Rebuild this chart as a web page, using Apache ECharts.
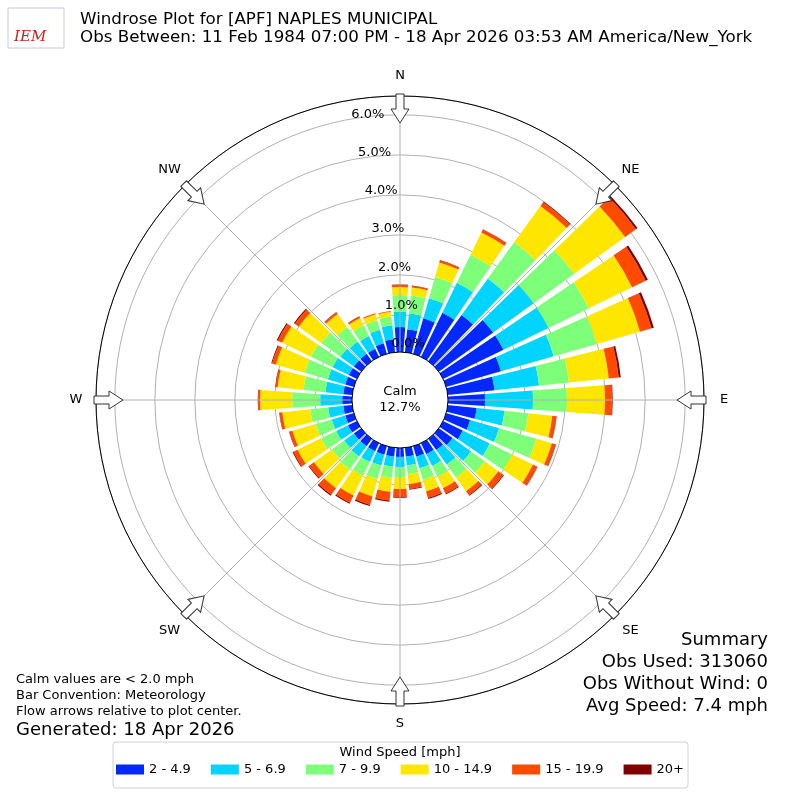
<!DOCTYPE html>
<html>
<head>
<meta charset="utf-8">
<script src="https://cdn.jsdelivr.net/npm/echarts@6/dist/echarts.min.js"></script>
<style>html,body{margin:0;padding:0;background:#fff}#chart{width:800px;height:800px}</style>
</head>
<body>
<div id="chart"></div>
<script>
// direction bins, every 10 degrees clockwise from N
const directions = ['0','10','20','30','40','50','60','70','80','90','100','110','120','130','140','150','160','170',
  '180','190','200','210','220','230','240','250','260','270','280','290','300','310','320','330','340','350'];
const speedBins = ['2 - 4.9', '5 - 6.9', '7 - 9.9', '10 - 14.9', '15 - 19.9', '20+'];
const binColors = ['#0028ff', '#00d4ff', '#7dff7a', '#ffe600', '#ff4a00', '#800000'];
const radiusTicks = ['0.0%', '1.0%', '2.0%', '3.0%', '4.0%', '5.0%', '6.0%'];

// percent of obs per direction for each speed bin
const spd2 = [.7,.65,1.0,1.3,1.5,1.75,1.75,1.5,1.25,1.0,.8,.7,.62,.5,.42,.38,.35,.3,.3,.3,.3,.3,.3,.3,.32,.3,.3,.32,.3,.3,.3,.3,.3,.3,.35,.4];
const spd5 = [.38,.4,.52,.83,1.12,1.25,1.25,1.37,1.12,1.2,.7,.75,.75,.57,.45,.33,.3,.22,.25,.25,.28,.3,.32,.3,.33,.35,.38,.55,.45,.45,.45,.42,.38,.35,.35,.35];
const spd7 = [.42,.45,.55,.78,1.12,1.25,1.12,1.12,.75,.85,.6,.97,.62,.42,.4,.3,.3,.22,.25,.28,.35,.38,.4,.38,.42,.42,.45,.7,.55,.6,.6,.58,.45,.3,.25,.22];
const spd10 = [.2,.2,.38,.62,1.12,1.57,1.2,1.12,1.0,.95,.6,.4,.58,.42,.42,.32,.3,.25,.3,.35,.45,.55,.58,.55,.65,.6,.7,.8,.65,.75,.8,.7,.4,.2,.15,.12];
const spd15 = [.05,.04,.05,.08,.12,.33,.38,.3,.25,.17,.1,.1,.12,.15,.12,.15,.17,.12,.2,.22,.22,.2,.2,.15,.12,.08,.07,.05,.05,.1,.12,.12,.05,.04,.03,.02];
const spd20 = [.01,.01,.01,.01,.02,.05,.06,.06,.05,.02,.01,.01,.01,.02,.02,.02,.03,.02,.02,.03,.03,.03,.03,.02,.02,.01,.01,.01,.01,.02,.03,.03,.01,.01,0,0];
const binValues = [spd2, spd5, spd7, spd10, spd15, spd20];

const compass = ['N', 'NE', 'E', 'SE', 'S', 'SW', 'W', 'NW'];
const CX = 400, CY = 400, R0 = 45, R1 = 304;
const FONT = '"DejaVu Sans"';

let graphics = [];
// radial guide lines and compass arrows / labels
compass.forEach((name, i) => {
    let a = i * 45 * Math.PI / 180;
    let sx = Math.sin(a), sy = -Math.cos(a);
    graphics.push({
        type: 'line', z: 50, silent: true,
        shape: {x1: CX + sx * 48, y1: CY + sy * 48, x2: CX + sx * R1, y2: CY + sy * R1},
        style: {stroke: '#b0b0b0', lineWidth: 1}
    });
    // arrow pointing to center, drawn along -y then rotated
    graphics.push({
        type: 'polygon', z: 60, silent: true,
        x: CX + sx * 291, y: CY + sy * 291,
        rotation: -i * 45 * Math.PI / 180,
        shape: {points: [[-4, -15], [4, -15], [4, 0], [9, 0], [0, 14], [-9, 0], [-4, 0]]},
        style: {fill: '#fff', stroke: '#333', lineWidth: 1}
    });
    let lr = i % 2 === 0 ? 324 : 326;
    graphics.push({
        type: 'text', z: 60,
        x: CX + sx * lr, y: CY + sy * lr,
        style: {text: name, font: '13px ' + FONT, fill: '#000', align: 'center', verticalAlign: 'middle'}
    });
});
// radius tick labels, placed like the matplotlib original
radiusTicks.forEach((t, i) => {
    graphics.push({
        type: 'text', z: 60, x: 408 - 6.7 * i, y: 344 - 38.3 * i,
        style: {text: t, font: '13px ' + FONT, fill: '#000', align: 'center', verticalAlign: 'middle'}
    });
});
graphics.push(
    {type: 'circle', z: 55, silent: true, shape: {cx: CX, cy: CY, r: 48}, style: {fill: '#fff', stroke: '#000', lineWidth: 1}},
    {type: 'text', z: 60, x: CX, y: CY - 8, style: {text: 'Calm', font: '13px ' + FONT, fill: '#000', align: 'center', verticalAlign: 'middle'}},
    {type: 'text', z: 60, x: CX, y: CY + 8, style: {text: '12.7%', font: '13px ' + FONT, fill: '#000', align: 'center', verticalAlign: 'middle'}},
    {type: 'text', x: 80, y: 11, style: {text: 'Windrose Plot for [APF] NAPLES MUNICIPAL', font: '16.7px ' + FONT, fill: '#000'}},
    {type: 'text', x: 80, y: 29, style: {text: 'Obs Between: 11 Feb 1984 07:00 PM - 18 Apr 2026 03:53 AM America/New_York', font: '16.7px ' + FONT, fill: '#000'}},
    {type: 'text', x: 14, y: 30, style: {text: 'IEM', font: 'italic 15px "DejaVu Serif"', fill: '#cc2222'}},
    {type: 'rect', shape: {x: 8, y: 8, width: 56, height: 40}, style: {fill: 'none', stroke: '#c8c8e0', lineWidth: 1}},
    {type: 'text', x: 768, y: 640, style: {text: 'Summary', font: '18px ' + FONT, fill: '#000', align: 'right', verticalAlign: 'middle'}},
    {type: 'text', x: 768, y: 662, style: {text: 'Obs Used: 313060', font: '18px ' + FONT, fill: '#000', align: 'right', verticalAlign: 'middle'}},
    {type: 'text', x: 768, y: 684, style: {text: 'Obs Without Wind: 0', font: '18px ' + FONT, fill: '#000', align: 'right', verticalAlign: 'middle'}},
    {type: 'text', x: 768, y: 706, style: {text: 'Avg Speed: 7.4 mph', font: '18px ' + FONT, fill: '#000', align: 'right', verticalAlign: 'middle'}},
    {type: 'text', x: 16, y: 680, style: {text: 'Calm values are < 2.0 mph', font: '13px ' + FONT, fill: '#000', verticalAlign: 'middle'}},
    {type: 'text', x: 16, y: 696, style: {text: 'Bar Convention: Meteorology', font: '13px ' + FONT, fill: '#000', verticalAlign: 'middle'}},
    {type: 'text', x: 16, y: 712, style: {text: 'Flow arrows relative to plot center.', font: '13px ' + FONT, fill: '#000', verticalAlign: 'middle'}},
    {type: 'text', x: 16, y: 730, style: {text: 'Generated: 18 Apr 2026', font: '18px ' + FONT, fill: '#000', verticalAlign: 'middle'}},
    {type: 'rect', shape: {x: 113, y: 742, width: 575, height: 46, r: 3}, style: {fill: '#fff', stroke: '#d0d0d0', lineWidth: 1}, z: -1},
    {type: 'text', x: 400, y: 753, style: {text: 'Wind Speed [mph]', font: '13px ' + FONT, fill: '#000', align: 'center', verticalAlign: 'middle'}}
);

let chart = echarts.init(document.getElementById('chart'));
let option = {
    animation: false,
    textStyle: {fontFamily: 'DejaVu Sans'},
    polar: {center: [CX, CY], radius: [R0, R1]},
    angleAxis: {
        type: 'category', data: directions, startAngle: 95, clockwise: true,
        axisLine: {lineStyle: {color: '#000', width: 1}},
        axisTick: {show: false}, axisLabel: {show: false}, splitLine: {show: false}
    },
    radiusAxis: {
        type: 'value', min: 0, max: 6.47, interval: 1,
        axisLine: {show: false}, axisTick: {show: false}, axisLabel: {show: false},
        splitLine: {lineStyle: {color: '#b0b0b0', width: 1}}
    },
    legend: {
        bottom: 19, left: 'center', itemWidth: 28, itemHeight: 10, itemGap: 20, icon: 'rect',
        textStyle: {fontSize: 13, color: '#000'},
        data: speedBins
    },
    graphic: graphics,
    series: speedBins.map((name, i) => ({
        type: 'bar', coordinateSystem: 'polar', stack: 'wind', name: name,
        data: binValues[i], barCategoryGap: '18%',
        itemStyle: {color: binColors[i]}
    }))
};
chart.setOption(option);
</script>
</body>
</html>
